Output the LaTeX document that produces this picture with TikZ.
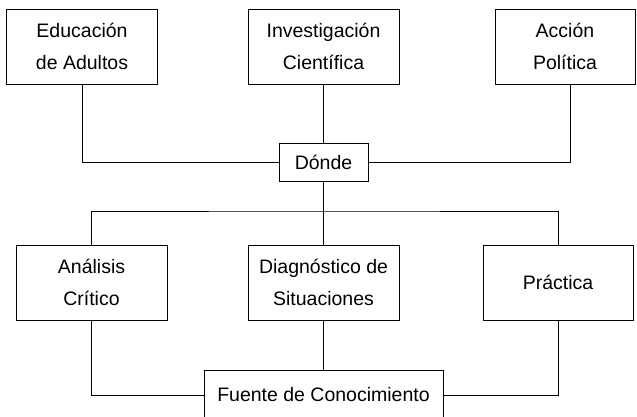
\documentclass[tikz,border=0pt]{standalone}
\usepackage{fontspec}
\setmainfont{Liberation Sans}
\begin{document}
\begin{tikzpicture}
  [x=1pt,y=1pt,line width=.8pt,every node/.style={draw,align=center,inner sep=0pt,font=\fontsize{19.5}{32}\selectfont}]
  \tikzstyle{box} = [minimum width=151pt,minimum height=75pt]
  \useasboundingbox (0,0) rectangle (637,-416);
  % fila de arriba
  \node[box] (edu) at (82,-46.5)    {Educación\\de Adultos};
  \node[box] (inv) at (323.5,-46.5) {Investigación\\Científica};
  \node[box,minimum width=140pt] (acc) at (565,-46.5) {Acción\\Política};
  \node[minimum width=89pt,minimum height=38pt] (donde) at (323.5,-162) {Dónde};
  % fila de abajo
  \node[box] (ana)  at (91.5,-282.5)  {Análisis\\Crítico};
  \node[box] (diag) at (323.5,-282.5) {Diagnóstico de\\Situaciones};
  \node[box,minimum width=150pt] (prac) at (558,-282.5) {Práctica};
  \node[minimum width=239pt,minimum height=50pt] (fuente) at (323.5,-395) {Fuente de Conocimiento};
  \coordinate (bus) at (323.5,-211);

  \draw (edu) |- (donde);
  \draw ([xshift=5pt]acc.south) |- (donde);
  \draw (inv) -- (donde);
  \draw (donde) -- (bus);
  \draw (ana) |- (bus) -| (prac);
  \draw (bus) -- (diag);
  \foreach \source in {ana,prac}
    \draw (\source) |- (fuente);
  \draw (diag) -- (fuente);
\end{tikzpicture}
\end{document}
